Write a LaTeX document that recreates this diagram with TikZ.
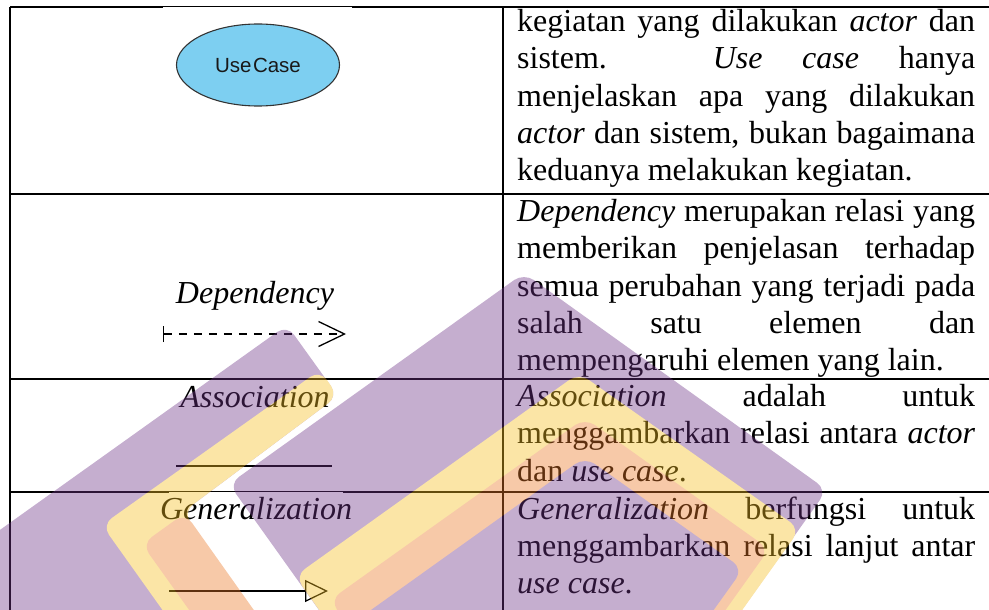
\documentclass[tikz,border=0pt]{standalone}
\usepackage{fontspec}
\setmainfont{Liberation Serif}
\newfontfamily\ucfont{Liberation Sans}
\usetikzlibrary{arrows.meta,shapes.geometric}
\definecolor{ucfill}{HTML}{7DCFF1}
\definecolor{logopurple}{HTML}{6E3487}
\definecolor{logoyellow}{HTML}{F5BE21}
\definecolor{logoorange}{HTML}{EB7826}
\tikzset{
  x=1pt, y=-1pt,
  rule/.style={line width=1.8pt, black},
  celltext/.style={anchor=base west, inner sep=0pt, text width=458pt, align=justify,
    font=\fontsize{32}{37.2}\selectfont},
  symlabel/.style={anchor=base, inner sep=0pt, font=\fontsize{32}{37.2}\selectfont\itshape},
  usecase/.style={ellipse, draw=black!80, line width=1.1pt, fill=ucfill,
    minimum width=163pt, minimum height=82pt, inner sep=0pt,
    font=\ucfont\fontsize{20.5}{24}\selectfont, text=black!90},
  relline/.style={line width=1.3pt, black},
  bar/.style={rounded corners=12pt},
}
\begin{document}
\begin{tikzpicture}
\useasboundingbox (0,0) rectangle (989,610);
\hyphenpenalty=10000

% table rules
\draw[rule] (10,7) -- (989,7);
\draw[rule] (10,194) -- (989,194);
\draw[rule] (10,379) -- (989,379);
\draw[rule] (10,492) -- (989,492);
\draw[rule] (10,7) -- (10,610);
\draw[rule] (503,7) -- (503,610);
% the pasted symbol images hide half of two rules
\fill[white] (163,7.2) rectangle (352,8.2);
\fill[white] (169,492.2) rectangle (343,493.2);

% left column: symbols
\node[usecase] (uc) at (258,65) {Use\hspace{1.5pt}Case};

\node[symlabel] (deplabel) at (255,303) {Dependency};
\coordinate (depA) at (163,334);
\coordinate (depB) at (346,334);
\draw[relline, line width=1.2pt, dash pattern=on 8pt off 7pt,
  {Bar[width=16pt,line width=1.2pt]}-{Straight Barb[length=26pt,width=25pt,line width=1.3pt]}]
  (depA) -- (depB);

\node[symlabel] (asslabel) at (255,407) {Association};
\coordinate (assA) at (176,466);
\coordinate (assB) at (332,466);
\draw[relline] (assA) -- (assB);

\node[symlabel] (genlabel) at (256,519) {Generalization};
\coordinate (genA) at (169,591);
\coordinate (genB) at (328,591);
\draw[relline, -{Triangle[open,length=23pt,width=22pt,line width=1.3pt]}] (genA) -- (genB);

% right column: descriptions
\node[celltext] (d1) at (517,31.7) {kegiatan yang dilakukan \textit{actor} dan\linebreak
  sistem. \textit{Use case} hanya\linebreak
  menjelaskan apa yang dilakukan\linebreak
  \textit{actor} dan sistem, bukan bagaimana\linebreak
  keduanya melakukan kegiatan.};
\node[celltext] (d2) at (517,221.7) {\textit{Dependency} merupakan relasi yang\linebreak
  memberikan penjelasan terhadap\linebreak
  semua perubahan yang terjadi pada\linebreak
  salah satu elemen dan\linebreak
  mempengaruhi elemen yang lain.};
\node[celltext] (d3) at (517,406.7) {\textit{Association} adalah untuk\linebreak
  menggambarkan relasi antara \textit{actor}\linebreak
  dan \textit{use case}.};
\node[celltext] (d4) at (517,519) {\textit{Generalization} berfungsi untuk\linebreak
  menggambarkan relasi lanjut antar\linebreak
  \textit{use case}.};

% faded logo laid over the page
\begin{scope}
\clip (0,0) rectangle (989,610);
\begin{scope}[transparency group, opacity=0.4]
  % left corner piece: purple, yellow and orange arms
  \fill[logopurple, bar] (-482,874) -- (287,325) -- (338,396) -- (183,512)
     -- (402,819) -- (-210,1256) -- cycle;
  \fill[logoyellow, bar] (342,862) -- (102,525) -- (320,370) -- (338,396)
     -- (183,512) -- (402,819) -- cycle;
  \fill[logoorange, bar] (360,849) -- (142,544) -- (185,513) -- (402,819) -- cycle;
  % peaked piece: nested purple, yellow, orange and purple chevrons
  \fill[logopurple, bar] (446,788) -- (229,484) -- (524,273) -- (827,490)
     -- (606,801) -- cycle;
  \fill[logoyellow, bar] (446,788) -- (295,576) -- (579,373) -- (800,529)
     -- (606,801) -- cycle;
  \fill[logoorange, bar] (458,779) -- (330,600) -- (585,418) -- (769,549)
     -- (595,793) -- cycle;
  \fill[logopurple, bar] (466,773) -- (357,620) -- (585,457) -- (743,569)
     -- (587,787) -- cycle;
\end{scope}
\end{scope}
\end{tikzpicture}
\end{document}
